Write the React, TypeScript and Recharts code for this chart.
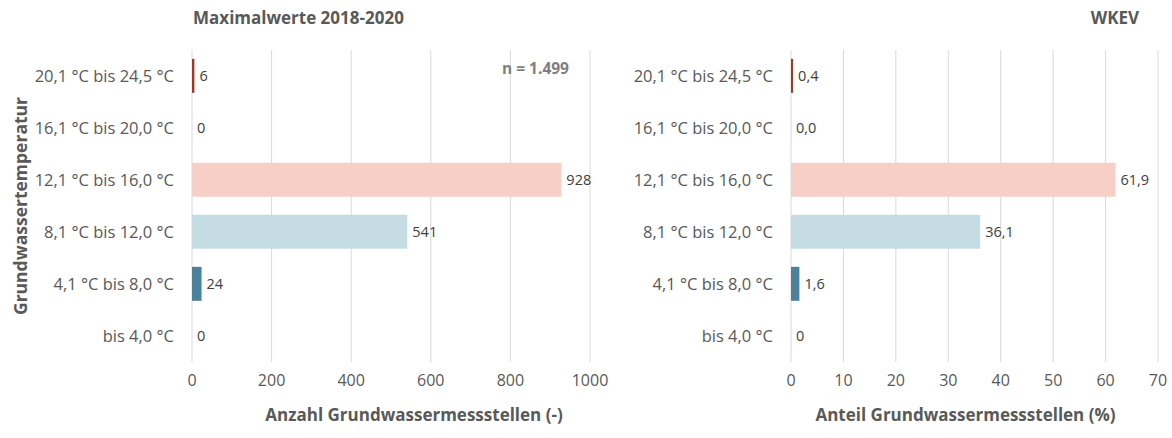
import React from 'react';
import { BarChart, Bar, XAxis, YAxis, CartesianGrid, Cell, LabelList } from 'recharts';

const categories = [
  '20,1 °C bis 24,5 °C',
  '16,1 °C bis 20,0 °C',
  '12,1 °C bis 16,0 °C',
  '8,1 °C bis 12,0 °C',
  '4,1 °C bis 8,0 °C',
  'bis 4,0 °C',
];
const counts = [6, 0, 928, 541, 24, 0];
const shares = [0.4, 0, 61.9, 36.1, 1.6, 0];
const shareLabels = ['0,4', '0,0', '61,9', '36,1', '1,6', '0'];
const barColors = ['#9a3b26', '#9a3b26', '#f8cfc6', '#c6dce4', '#4b8199', '#4b8199'];
const countTicks = [0, 200, 400, 600, 800, 1000];
const shareTicks = [0, 10, 20, 30, 40, 50, 60, 70];

const leftData = categories.map((c, i) => ({ cat: c, value: counts[i], label: String(counts[i]) }));
const rightData = categories.map((c, i) => ({ cat: c, value: shares[i], label: shareLabels[i] }));

const FONT = '"Open Sans", sans-serif';
const GRAY = '#595959';

function Panel({ data, ticks, domain, axisTitle, width, yWidth, right, titleDx }: any) {
  return (
    <BarChart
      width={width}
      height={438}
      data={data}
      layout="vertical"
      margin={{ top: 50, right: right, left: 0, bottom: 0 }}
      barCategoryGap="17%"
    >
      <CartesianGrid horizontal={false} vertical={true} stroke="#d9d9d9" />
      <XAxis
        type="number"
        domain={domain}
        ticks={ticks}
        axisLine={false}
        tickLine={false}
        height={76}
        tickMargin={7}
        tick={{ fill: GRAY, fontSize: 16, fontFamily: FONT }}
        label={{ value: axisTitle, position: 'insideBottom', offset: 17, dx: titleDx, fill: GRAY, fontSize: 17, fontWeight: 'bold', fontFamily: FONT }}
      />
      <YAxis
        type="category"
        dataKey="cat"
        width={yWidth}
        axisLine={false}
        tickLine={false}
        tickMargin={12}
        interval={0}
        tick={{ fill: GRAY, fontSize: 16.5, fontFamily: FONT }}
      />
      <Bar dataKey="value" isAnimationActive={false} minPointSize={0.01}>
        {data.map((d: any, i: number) => (
          <Cell key={i} fill={barColors[i]} />
        ))}
        <LabelList dataKey="label" position="right" offset={5} fill="#404040" fontSize={14.5} fontFamily={FONT} />
      </Bar>
    </BarChart>
  );
}

export default function App() {
  return (
    <div style={{ position: 'absolute', left: 0, top: 0, width: 1172, height: 438, background: '#fff', fontFamily: FONT }}>
      <div style={{ position: 'absolute', left: 0, top: 0 }}>
        <Panel data={leftData} ticks={countTicks} domain={[0, 1000]} axisTitle="Anzahl Grundwassermessstellen (-)" width={620} yWidth={192} right={30} titleDx={23} />
      </div>
      <div style={{ position: 'absolute', left: 620, top: 0 }}>
        <Panel data={rightData} ticks={shareTicks} domain={[0, 70]} axisTitle="Anteil Grundwassermessstellen (%)" width={552} yWidth={171} right={14} titleDx={-9} />
      </div>
      <div style={{ position: 'absolute', left: 193, top: 7, fontSize: 17, fontWeight: 'bold', color: GRAY, lineHeight: '22px' }}>
        Maximalwerte 2018-2020
      </div>
      <div style={{ position: 'absolute', right: 33, top: 7, fontSize: 17, fontWeight: 'bold', color: GRAY, lineHeight: '22px' }}>
        WKEV
      </div>
      <div style={{ position: 'absolute', left: 502, top: 57, fontSize: 15.5, fontWeight: 'bold', color: '#7f7f7f', lineHeight: '22px' }}>
        n = 1.499
      </div>
      <div
        style={{
          position: 'absolute',
          left: 20,
          top: 206,
          transform: 'translate(-50%, -50%) rotate(-90deg)',
          whiteSpace: 'nowrap',
          fontSize: 17.5,
          fontWeight: 'bold',
          color: GRAY,
          lineHeight: '22px',
        }}
      >
        Grundwassertemperatur
      </div>
    </div>
  );
}
